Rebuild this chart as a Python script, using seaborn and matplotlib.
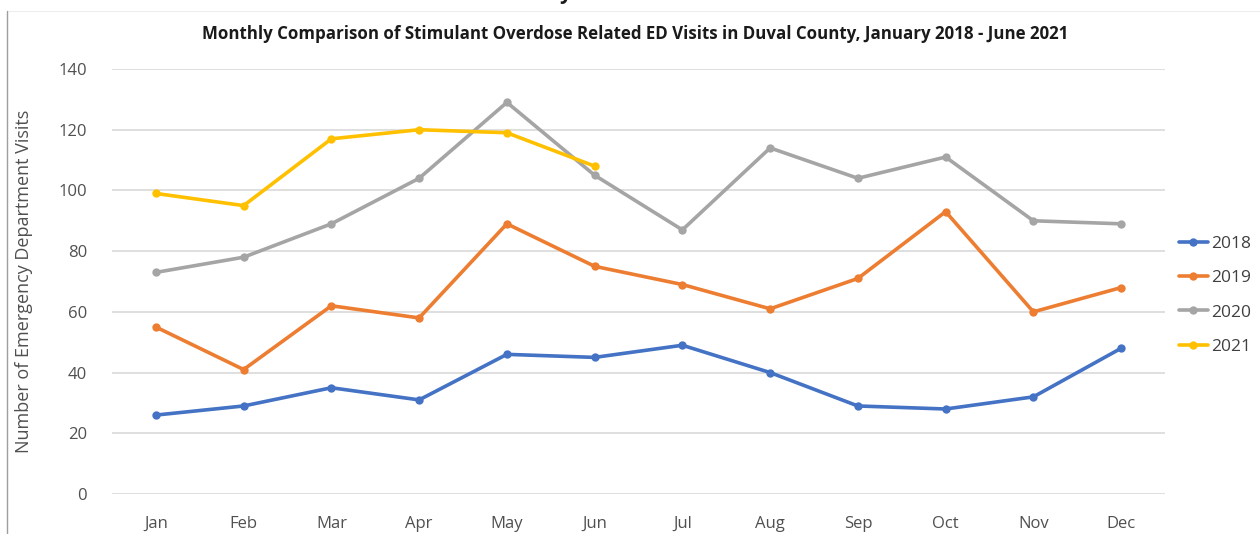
import matplotlib
matplotlib.use("Agg")
import matplotlib.pyplot as plt
import seaborn as sns
import pandas as pd
from matplotlib.lines import Line2D

months = ["Jan", "Feb", "Mar", "Apr", "May", "Jun",
          "Jul", "Aug", "Sep", "Oct", "Nov", "Dec"]
visits_2018 = [26, 29, 35, 31, 46, 45, 49, 40, 29, 28, 32, 48]
visits_2019 = [55, 41, 62, 58, 89, 75, 69, 61, 71, 93, 60, 68]
visits_2020 = [73, 78, 89, 104, 129, 105, 87, 114, 104, 111, 90, 89]
visits_2021 = [99, 95, 117, 120, 119, 108]
years = ["2018", "2019", "2020", "2021"]
y_ticks = [0, 20, 40, 60, 80, 100, 120, 140]
colors = ["#4472C4", "#ED7D31", "#A5A5A5", "#FFC000"]

series = [visits_2018, visits_2019, visits_2020, visits_2021]
rows = []
for yr, vals in zip(years, series):
    for i, v in enumerate(vals):
        rows.append({"month": i, "visits": v, "year": yr})
df = pd.DataFrame(rows)

sns.set_theme(style="white")
plt.rcParams["font.family"] = ["Open Sans", "DejaVu Sans"]

fig = plt.figure(figsize=(12.6, 5.34), dpi=100)
ax = fig.add_axes([0.0889, 0.0749, 0.8357, 0.7959])

ax.yaxis.grid(True, color="#D9D9D9", linewidth=1.2)
ax.set_axisbelow(True)

sns.lineplot(data=df, x="month", y="visits", hue="year", hue_order=years,
             palette=colors, marker="o", markersize=6, markeredgewidth=0,
             linewidth=2.6, ax=ax, legend=False, zorder=3)

ax.set_xlim(-0.5, 11.5)
ax.set_ylim(0, 140)
ax.set_yticks(y_ticks)
ax.set_xticks(range(len(months)))
ax.set_xticklabels(months)
ax.tick_params(axis="both", length=0, labelsize=12, labelcolor="#505050")
ax.tick_params(axis="y", pad=18)
ax.tick_params(axis="x", pad=16)
for s in ax.spines.values():
    s.set_visible(False)

ax.set_xlabel("")
ax.set_ylabel("Number of Emergency Department Visits", fontsize=13,
              color="#505050")
ax.yaxis.set_label_coords(-0.075, 0.5)

fig.text(0.504, 0.937,
         "Monthly Comparison of Stimulant Overdose Related ED Visits in Duval County, January 2018 - June 2021",
         ha="center", va="center", fontsize=12.2, fontweight="bold",
         color="#1a1a1a", family=["Liberation Sans Narrow", "Open Sans", "DejaVu Sans"])

handles = [Line2D([0], [0], color=c, lw=2.6, marker="o", markersize=6,
                  markeredgewidth=0) for c in colors]
leg = fig.legend(handles, years, loc="center left", bbox_to_anchor=(0.923, 0.447),
                 frameon=False, fontsize=12.5, handlelength=1.7,
                 handletextpad=0.15, labelspacing=1.05)
for t in leg.get_texts():
    t.set_color("#404040")

# chart frame edge and clipped glyph along the top of the image
fig.add_artist(Line2D([0.0056, 1.0], [0.979, 0.979], color="#EDEDED", lw=0.8))
fig.add_artist(Line2D([0.0056, 0.0056], [0.0, 0.979], color="#9E9E9E", lw=1.0))
fig.text(0.449, 1.012, "y", ha="center", va="center", fontsize=15,
         fontweight="bold", color="#1a1a1a")

fig.savefig("out.png", dpi=100)
